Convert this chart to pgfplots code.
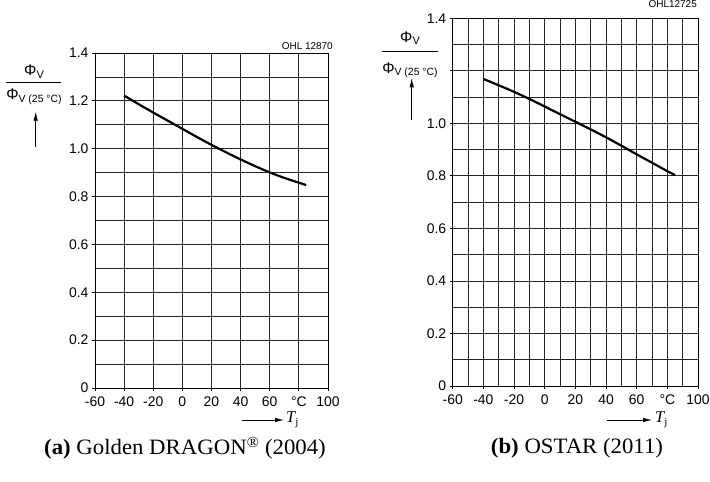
\documentclass[border=0pt]{standalone}
\usepackage{fontspec}
\setmainfont{Liberation Sans}
\newfontfamily\seriffont{Liberation Serif}
\newfontfamily\capfont[FakeStretch=1.04]{Liberation Serif}
\usepackage{pgfplots}
\pgfplotsset{compat=1.18}
\usetikzlibrary{arrows.meta}

\newcommand{\phifrac}{%
  {\fontsize{15.5}{15.5}\selectfont Φ}{\fontsize{11}{11}\selectfont\raisebox{-2.5bp}{V}}}
\newcommand{\phiden}{%
  {\fontsize{15.5}{15.5}\selectfont Φ}{\fontsize{10.5}{10.5}\selectfont\raisebox{-2.5bp}{V (25 °C)}}}
\newcommand{\tj}{{\seriffont\fontsize{16.5}{16.5}\selectfont\itshape T}{\seriffont\fontsize{11}{11}\selectfont\raisebox{-3bp}{j}}}

\pgfplotsset{
  chart/.style={
    scale only axis, anchor=south west,
    xmin=-60, xmax=100, ymin=0, ymax=1.4,
    xtick={-60,-40,-20,0,20,40,60,80,100},
    xticklabels={-60,-40,-20,0,20,40,60,°C,100},
    ytick={0,0.2,0.4,0.6,0.8,1.0,1.2,1.4},
    minor ytick={0.1,0.3,0.5,0.7,0.9,1.1,1.3},
    grid=both,
    major grid style={black!85, line width=0.8bp},
    minor grid style={black!85, line width=0.8bp},
    axis line style={black, line width=0.9bp},
    tick align=outside, tick pos=left,
    major tick length=3bp, minor tick length=0pt,
    tick style={black, line width=0.8bp},
    tick label style={font=\fontsize{14}{16}\selectfont},
    xticklabel style={yshift=-2bp},
  }
}

\begin{document}
\begin{tikzpicture}
\useasboundingbox (0,0) rectangle (710bp,482bp);

% ---------- left chart ----------
\begin{axis}[chart, at={(95bp,94bp)}, width=233bp, height=335bp,
  yticklabels={0,0.2,0.4,0.6,0.8,1.0,1.2,1.4}]
\addplot[black, line width=2.2bp, smooth] coordinates {
(-40,1.222) (-30,1.186) (-20,1.151) (-10,1.117) (0,1.083) (10,1.049)
(20,1.016) (30,0.985) (40,0.955) (50,0.927) (60,0.901) (70,0.878) (80,0.858) (85,0.848)};
\end{axis}

% ---------- right chart ----------
\begin{axis}[chart, at={(452.7bp,96bp)}, width=245.3bp, height=367.7bp,
  yticklabels={0,0.2,0.4,0.6,0.8,1.0,,1.4},
  minor xtick={-50,-30,-10,10,30,50,70,90}]
\addplot[black, line width=2.2bp, smooth] coordinates {
(-40,1.169) (-30,1.145) (-20,1.120) (-10,1.093) (0,1.064) (10,1.035)
(20,1.006) (30,0.977) (40,0.947) (50,0.915) (60,0.882) (70,0.850) (80,0.818) (85,0.803)};
\end{axis}

% ---------- labels left ----------
\node[inner sep=0] at (34bp,410.3bp) {\phifrac};
\draw[line width=0.6bp] (6bp,399.7bp) -- (61bp,399.7bp);
\node[inner sep=0] at (34bp,385.3bp) {\phiden};
\draw[line width=0.8bp, -{Latex[length=9bp,width=4.5bp]}] (35.7bp,335.3bp) -- (35.7bp,370.3bp);
\node[anchor=east, inner sep=0, font=\fontsize{10}{10}\selectfont] at (333bp,436bp) {OHL 12870};
\draw[line width=0.8bp, -{Latex[length=9bp,width=4.5bp]}] (242bp,62bp) -- (284bp,62bp);
\node[anchor=west, inner sep=0] at (286bp,62bp) {\tj};

% ---------- labels right ----------
\node[inner sep=0] at (410bp,443.7bp) {\phifrac};
\draw[line width=0.6bp] (381.7bp,430.3bp) -- (438.3bp,430.3bp);
\node[inner sep=0] at (410bp,412bp) {\phiden};
\draw[line width=0.8bp, -{Latex[length=9bp,width=4.5bp]}] (411.7bp,362bp) -- (411.7bp,403.7bp);
\node[anchor=east, inner sep=0, font=\fontsize{10}{10}\selectfont] at (697bp,478bp) {OHL12725};
\draw[line width=0.8bp, -{Latex[length=9bp,width=4.5bp]}] (606.7bp,62bp) -- (652bp,62bp);
\node[anchor=west, inner sep=0] at (655bp,62bp) {\tj};

% ---------- captions ----------
\node[inner sep=0, font=\capfont\fontsize{22}{24}\selectfont] at (185bp,34bp)
  {\textbf{(a)} Golden DRAGON\textsuperscript{®} (2004)};
\node[inner sep=0, font=\capfont\fontsize{22}{24}\selectfont] at (577bp,34bp)
  {\textbf{(b)} OSTAR (2011)};
\end{tikzpicture}
\end{document}
